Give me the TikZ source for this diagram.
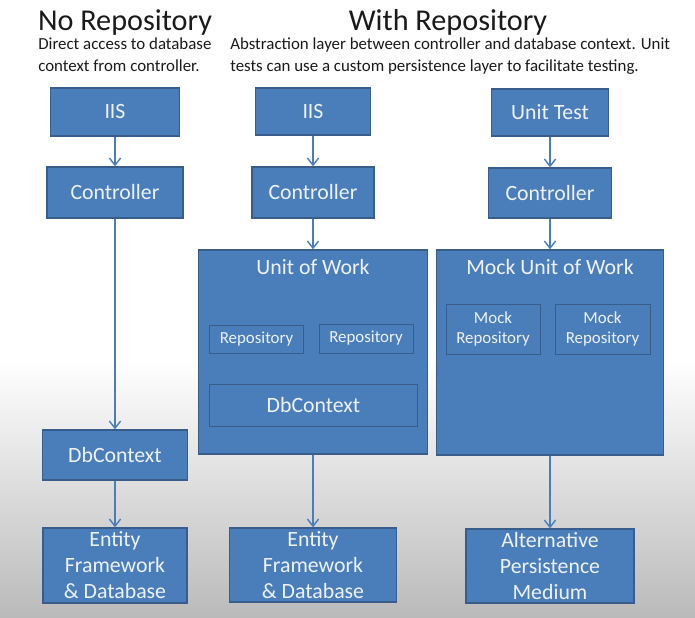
\documentclass[tikz,border=0pt]{standalone}
\usepackage{fontspec}
\setmainfont{Carlito}
\usepackage{tikz}
\usetikzlibrary{arrows.meta,positioning}
\definecolor{boxblue}{HTML}{4A7EBB}
\definecolor{boxline}{HTML}{385D8A}
\definecolor{boxtext}{HTML}{EEF2F8}
\definecolor{ink}{HTML}{1A1A1A}

\begin{document}
\begin{tikzpicture}[x=0.025cm,y=-0.025cm,
  k/.style={rectangle,draw=boxline,line width=0.9pt,fill=boxblue,text=boxtext,align=center,inner sep=0pt,font=\fontsize{15.5}{18.5}\selectfont},
  r/.style={k,line width=0.7pt,font=\fontsize{12}{14.2}\selectfont},
  hd/.style={text=boxtext,inner sep=0pt,font=\fontsize{15.5}{18.5}\selectfont},
  ar/.style={draw=boxblue,line width=1pt,-{Straight Barb[length=1.8mm,width=2.8mm]}}]
  \useasboundingbox (0,0) rectangle (695,617);
  \fill[white] (0,0) rectangle (695,360);
  \shade[top color=white,bottom color=black!27] (0,360) rectangle (695,617);

  \node[anchor=base,text=ink,font=\fontsize{21.5}{26}\selectfont] (t1) at (125,31) {No Repository};
  \node[anchor=base,text=ink,font=\fontsize{21.5}{26}\selectfont] (t2) at (448,31) {With Repository};
  \node[anchor=north west,align=left,inner sep=0pt,text=ink,font=\fontsize{12}{15}\selectfont] (s1) at (38,38) {Direct access to database\\context from controller.};
  \node[anchor=north west,align=left,inner sep=0pt,text=ink,font=\fontsize{12}{15}\selectfont] (s2) at (230,38) {Abstraction layer between controller and database context. Unit\\tests can use a custom persistence layer to facilitate testing.};

  % no repository
  \node[k,minimum width=3.225cm,minimum height=1.2cm] (iis1) at (115,112) {IIS};
  \node[k,minimum width=3.4cm,minimum height=1.275cm] (ctl1) at (115,192.5) {Controller};
  \node[k,minimum width=3.625cm,minimum height=1.25cm] (db1) at (115,455) {DbContext};
  \node[k,minimum width=3.6cm,minimum height=1.875cm] (ef1) at (115,565.5) {Entity\\Framework\\\& Database};

  % with repository
  \node[k,minimum width=2.875cm,minimum height=1.175cm] (iis2) at (313,111.5) {IIS};
  \node[k,minimum width=3.05cm,minimum height=1.275cm] (ctl2) at (313,192.5) {Controller};
  \node[k,minimum width=5.725cm,minimum height=5.1cm] (uow) at (313,352) {};
  \node[hd,below=7pt of uow.north] (uowt) {Unit of Work};
  \node[r,minimum width=2.325cm,minimum height=0.7cm] (rp1) at (256.5,339) {Repository};
  \node[r,minimum width=2.35cm,minimum height=0.725cm] (rp2) at (366,338.5) {Repository};
  \node[r,minimum width=5.175cm,minimum height=1.05cm,font=\fontsize{15.5}{18.5}\selectfont] (db2) at (313.5,405) {DbContext};
  \node[k,minimum width=4.175cm,minimum height=1.85cm] (ef2) at (313,565) {Entity\\Framework\\\& Database};

  % unit test
  \node[k,minimum width=2.925cm,minimum height=1.175cm] (ut) at (550,112.5) {Unit Test};
  \node[k,minimum width=3.075cm,minimum height=1.25cm] (ctl3) at (550,193) {Controller};
  \node[k,minimum width=5.675cm,minimum height=5.125cm] (muow) at (550,352.5) {};
  \node[hd,below=7pt of muow.north] (muowt) {Mock Unit of Work};
  \node[r,minimum width=2.35cm,minimum height=1.25cm] (mr1) at (493,329) {Mock\\Repository};
  \node[r,minimum width=2.375cm,minimum height=1.25cm] (mr2) at (602.5,329) {Mock\\Repository};
  \node[k,minimum width=4.2cm,minimum height=1.85cm] (alt) at (550,566) {Alternative\\Persistence\\Medium};

  \draw[ar] (iis1) -- (ctl1);
  \draw[ar] (ctl1) -- (db1);
  \draw[ar] (db1) -- (ef1);
  \draw[ar] (iis2) -- (ctl2);
  \draw[ar] (ctl2) -- (uow);
  \draw[ar] (uow) -- (ef2);
  \draw[ar] (ut) -- (ctl3);
  \draw[ar] (ctl3) -- (muow);
  \draw[ar] (muow) -- (alt);
\end{tikzpicture}
\end{document}
